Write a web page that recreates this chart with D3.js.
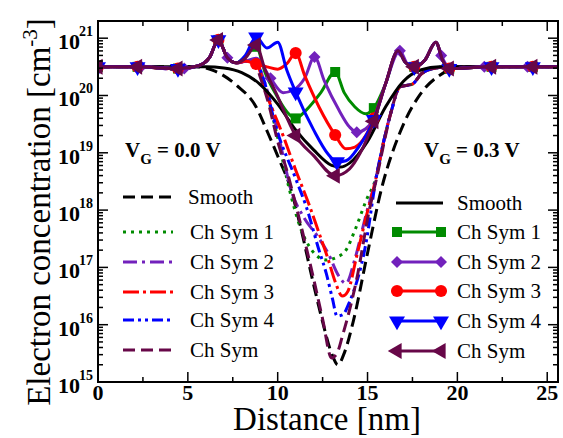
<!DOCTYPE html>
<html>
<head>
<meta charset="utf-8">
<script src="https://cdn.jsdelivr.net/npm/d3@7"></script>
<style>
  body { margin: 0; background: #fff; font-family: "Liberation Serif", serif; }
</style>
</head>
<body>
<div id="chart"></div>
<script>
// values are [distance (nm), log10 of electron concentration (cm^-3)]
const xTicks = [0, 5, 10, 15, 20, 25];
const xMinor = [2.5, 7.5, 12.5, 17.5, 22.5];
const decades = [15, 16, 17, 18, 19, 20, 21];

// V_G = 0.0 V (dashed)
const smoothDash = [[0,20.5],[5.5,20.5],[6.4,20.44],[7.7,20.18],[8.8,19.8],[9.45,19.35],[10.1,18.87],[10.7,18.4],[11.2,17.8],[12.0,16.7],[12.5,16.05],[13.0,15.5],[13.35,15.3],[13.7,15.5],[14.2,16.05],[15.0,17.25],[15.8,18.4],[16.8,19.35],[18.0,20.05],[19.0,20.35],[20.0,20.48],[21.0,20.5],[25.6,20.5]];
const dashLeft = [[0,20.5],[2.2,20.5],[4.45,20.46],[5.6,20.52],[6.2,20.66],[6.7,20.97],[7.2,20.66],[7.7,20.57],[8.2,20.6],[8.7,20.62]];
const dashRight = [[15.5,18.6],[15.9,19.2],[16.3,19.7],[16.8,20.15],[17.5,20.2],[18.0,20.38],[18.8,20.48],[19.5,20.5],[25.6,20.5]];
const sym1Dash = [...dashLeft,[9.2,20.25],[9.9,19.4],[10.7,18.3],[11.2,17.75],[11.9,17.3],[12.7,17.13],[13.3,17.18],[13.8,17.3],[14.3,17.65],[14.9,18.15],...dashRight];
const sym2Dash = [...dashLeft,[9.2,20.3],[9.9,19.5],[10.8,18.3],[11.5,17.85],[12.2,17.55],[12.8,17.25],[13.4,16.85],[13.8,16.72],[14.3,17.15],[14.9,17.9],...dashRight];
const sym3Dash = [...dashLeft,[9.4,20.0],[10.3,19.3],[11.0,18.7],[11.8,18.05],[12.3,17.6],[12.8,17.15],[13.2,16.75],[13.6,16.5],[13.9,16.58],[14.4,17.2],[14.9,17.85],...dashRight];
const sym4Dash = [...dashLeft,[9.2,20.3],[9.9,19.45],[11.0,18.55],[11.6,18.05],[12.3,17.3],[12.7,16.9],[13.05,16.45],[13.3,16.15],[13.6,16.17],[14.0,16.4],[14.9,17.4],...dashRight];
const symDash = [...dashLeft,[9.0,20.35],[9.5,19.85],[10.0,19.2],[10.5,18.7],[11.0,18.1],[12.0,16.8],[12.5,16.1],[13.0,15.42],[13.3,15.5],[13.6,15.8],[14.4,16.8],[15.1,18.0],[15.5,18.55],[15.9,19.15],[16.3,19.7],[16.8,20.15],[17.5,20.2],[18.0,20.38],[18.8,20.48],[19.5,20.5],[25.6,20.5]];

// V_G = 0.3 V (solid, with symbols)
const smoothSolid = [[0,20.5],[6,20.5],[7,20.48],[8,20.4],[9,20.2],[10,19.85],[11,19.4],[12,19.05],[13,18.78],[13.5,18.75],[14,18.82],[15,19.2],[16,19.8],[17,20.25],[18,20.45],[19,20.5],[25.6,20.5]];
const solidLeft = [[0,20.5],[2.2,20.5],[4.45,20.47],[5.6,20.52],[6.2,20.66],[6.7,20.97],[7.2,20.66],[7.7,20.57]];
const solidRight = [[16.0,20.2],[16.7,20.78],[17.1,20.58],[17.6,20.5],[18.2,20.62],[18.8,20.93],[19.2,20.6],[19.55,20.47],[21.9,20.5],[24.2,20.5],[25.6,20.5]];
const sym1Solid = [...solidLeft,[8.2,20.68],[8.8,20.85],[9.3,20.4],[9.9,20.02],[10.5,19.72],[11.0,19.6],[11.6,19.75],[12.4,20.05],[13.2,20.41],[13.7,20.05],[14.3,19.8],[14.9,19.68],[15.35,19.78],...solidRight];
const sym2Solid = [[0,20.5],[2.4,20.5],[4.8,20.47],[5.6,20.52],[6.2,20.66],[6.7,20.97],[7.2,20.66],[7.7,20.57],[8.2,20.6],[8.8,20.65],[9.6,20.3],[10.3,20.05],[10.9,20.1],[11.5,20.3],[12.05,20.67],[12.6,20.25],[13.4,19.75],[14.0,19.45],[14.4,19.36],[14.9,19.42],[15.4,19.62],[16.0,20.2],[16.8,20.78],[17.2,20.56],[17.6,20.5],[18.2,20.62],[18.8,20.93],[19.1,20.7],[19.6,20.47],[21.5,20.5],[23.9,20.5],[25.6,20.5]];
const sym3Solid = [...solidLeft,[8.2,20.6],[8.8,20.55],[9.4,20.5],[10.0,20.46],[10.5,20.55],[11.0,20.74],[11.5,20.35],[12.3,19.8],[13.2,19.31],[13.8,19.07],[14.3,19.1],[14.9,19.3],[15.35,19.6],...solidRight];
const sym4Solid = [...solidLeft,[8.2,20.7],[8.8,21.02],[9.4,20.83],[10.0,20.93],[10.5,20.45],[11.0,20.06],[12.0,19.4],[12.8,18.98],[13.3,18.84],[13.8,18.86],[14.5,19.1],[15.35,19.58],...solidRight];
const symSolid = [...solidLeft,[8.2,20.65],[8.8,20.88],[9.3,20.45],[9.9,20.05],[11.0,19.3],[12.0,18.95],[13.2,18.6],[14.0,18.72],[14.6,19.0],[15.35,19.55],...solidRight];

// where the symbols sit along the solid curves
const markNm = [0, 2.2, 4.45, 6.7, 8.8, 11.0, 13.2, 13.3, 15.35, 17.6, 19.55, 21.9, 24.2];
const markNmSym2 = [0, 2.4, 4.8, 7.2, 9.6, 12.05, 14.4, 16.8, 19.1, 21.5, 23.9];

const dashNames = ["Smooth", "Ch Sym 1", "Ch Sym 2", "Ch Sym 3", "Ch Sym 4", "Ch Sym"];
const solidNames = ["Smooth", "Ch Sym 1", "Ch Sym 2", "Ch Sym 3", "Ch Sym 4", "Ch Sym"];

const FONT = "Liberation Serif";
const W = 563, H = 438;
const svg = d3.select("#chart").append("svg")
    .attr("width", W).attr("height", H);

const x = d3.scaleLinear().domain([0, 25.6]).range([98, 558]);
const y = d3.scaleLog().domain([1e15, Math.pow(10, 21.3)]).range([382, 21]);

const colors = ["#000000", "#008b00", "#7221bc", "#ff0000", "#0000ff", "#670748"];
const dashes = ["12,6", "3,5", "14,5,3,5", "16,4,3,4", "11,4,3,4,3,4", "12,6"];

svg.append("defs").append("clipPath").attr("id", "plotclip")
  .append("rect").attr("x", 98).attr("y", 21).attr("width", 460).attr("height", 361);

const line = d3.line()
    .x(d => x(d[0]))
    .y(d => y(Math.pow(10, d[1])))
    .curve(d3.curveMonotoneX);

const plot = svg.append("g").attr("clip-path", "url(#plotclip)");

const dashSets = [smoothDash, sym1Dash, sym2Dash, sym3Dash, sym4Dash, symDash];
dashSets.forEach((s, i) => {
  plot.append("path").datum(s)
    .attr("d", line)
    .attr("fill", "none")
    .attr("stroke", colors[i])
    .attr("stroke-width", 3)
    .attr("stroke-dasharray", dashes[i]);
});

const symTypes = [null, d3.symbolSquare, d3.symbolSquare, d3.symbolCircle, d3.symbolTriangle, d3.symbolTriangle];
const symRot = [0, 0, 45, 0, 180, -90];
const symSize = [0, 100, 72, 115, 110, 110];

function drawSymbol(g, i, cx, cy) {
  g.append("path")
    .attr("d", d3.symbol().type(symTypes[i]).size(symSize[i]))
    .attr("transform", `translate(${cx},${cy}) rotate(${symRot[i]})`)
    .attr("fill", colors[i]);
}

const solidSets = [smoothSolid, sym1Solid, sym2Solid, sym3Solid, sym4Solid, symSolid];
solidSets.forEach((s, i) => {
  plot.append("path").datum(s)
    .attr("d", line)
    .attr("fill", "none")
    .attr("stroke", colors[i])
    .attr("stroke-width", 3);
  if (i > 0) {
    const marks = i === 2 ? markNmSym2 : markNm;
    s.filter(d => marks.includes(d[0])).forEach(d => {
      drawSymbol(plot, i, x(d[0]), y(Math.pow(10, d[1])));
    });
  }
});

// frame and ticks
const axes = svg.append("g");
axes.append("rect").attr("x", 98).attr("y", 21).attr("width", 460).attr("height", 361)
  .attr("fill", "none").attr("stroke", "#000").attr("stroke-width", 2);

function tickX(v, len) {
  axes.append("line").attr("x1", x(v)).attr("x2", x(v)).attr("y1", 382).attr("y2", 382 - len)
    .attr("stroke", "#000").attr("stroke-width", 1.5);
  axes.append("line").attr("x1", x(v)).attr("x2", x(v)).attr("y1", 21).attr("y2", 21 + len)
    .attr("stroke", "#000").attr("stroke-width", 1.5);
}
xTicks.forEach(v => tickX(v, 10));
xMinor.forEach(v => tickX(v, 5));

function tickY(v, len) {
  axes.append("line").attr("x1", 98).attr("x2", 98 + len).attr("y1", y(v)).attr("y2", y(v))
    .attr("stroke", "#000").attr("stroke-width", 1.5);
  axes.append("line").attr("x1", 558).attr("x2", 558 - len).attr("y1", y(v)).attr("y2", y(v))
    .attr("stroke", "#000").attr("stroke-width", 1.5);
}
decades.forEach(k => {
  tickY(Math.pow(10, k), 10);
  if (k < 21) d3.range(2, 10).forEach(m => tickY(m * Math.pow(10, k), 5));
});

axes.selectAll(".xlab").data(xTicks).enter().append("text")
  .attr("x", d => x(d)).attr("y", 400)
  .attr("text-anchor", "middle")
  .style("font-family", FONT)
  .style("font-size", "22px").style("font-weight", "bold")
  .text(d => d);

const ylab = axes.selectAll(".ylab").data(decades).enter().append("text")
  .attr("x", 93).attr("y", d => y(Math.pow(10, d)) + 11)
  .attr("text-anchor", "end")
  .style("font-family", FONT)
  .style("font-size", "22px").style("font-weight", "bold");
ylab.append("tspan").text("10");
ylab.append("tspan").attr("dy", -13).attr("dx", -1).style("font-size", "14px").text(d => d);

// axis titles
svg.append("text")
  .attr("x", 327).attr("y", 430)
  .attr("text-anchor", "middle")
  .style("font-family", FONT)
  .style("font-size", "33px")
  .text("Distance [nm]");

const yt = svg.append("text")
  .attr("transform", "translate(50,212) rotate(-90)")
  .attr("text-anchor", "middle")
  .style("font-family", FONT)
  .style("font-size", "33px");
yt.append("tspan").text("Electron concentration [cm");
yt.append("tspan").attr("dy", -13).style("font-size", "21px").text("-3");
yt.append("tspan").attr("dy", 13).text("]");

// gate voltage labels
function vgLabel(xp, val) {
  const t = svg.append("text").attr("x", xp).attr("y", 157)
    .style("font-family", FONT)
    .style("font-size", "21px").style("font-weight", "bold");
  t.append("tspan").text("V");
  t.append("tspan").attr("dy", 7).style("font-size", "15px").text("G");
  t.append("tspan").attr("dy", -7).text(" = " + val + " V");
}
vgLabel(125, "0.0");
vgLabel(424, "0.3");

// legend, V_G = 0.0 V
const leftRows = [197, 232, 262, 292, 320, 350];
dashNames.forEach((n, i) => {
  svg.append("line").attr("x1", 123).attr("x2", 173)
    .attr("y1", leftRows[i]).attr("y2", leftRows[i])
    .attr("stroke", colors[i]).attr("stroke-width", 3)
    .attr("stroke-dasharray", dashes[i]);
  svg.append("text").attr("x", i === 0 ? 188 : 190).attr("y", leftRows[i] + 7)
    .style("font-family", FONT)
    .style("font-size", "21px").text(n);
});

// legend, V_G = 0.3 V
const rightRows = [203, 232, 262, 291, 321, 351];
solidNames.forEach((n, i) => {
  svg.append("line").attr("x1", 396).attr("x2", 443)
    .attr("y1", rightRows[i]).attr("y2", rightRows[i])
    .attr("stroke", colors[i]).attr("stroke-width", 3);
  if (i > 0) {
    drawSymbol(svg, i, 397, rightRows[i]);
    drawSymbol(svg, i, 441, rightRows[i]);
  }
  svg.append("text").attr("x", 457).attr("y", rightRows[i] + 7)
    .style("font-family", FONT)
    .style("font-size", "21px").text(n);
});
</script>
</body>
</html>
